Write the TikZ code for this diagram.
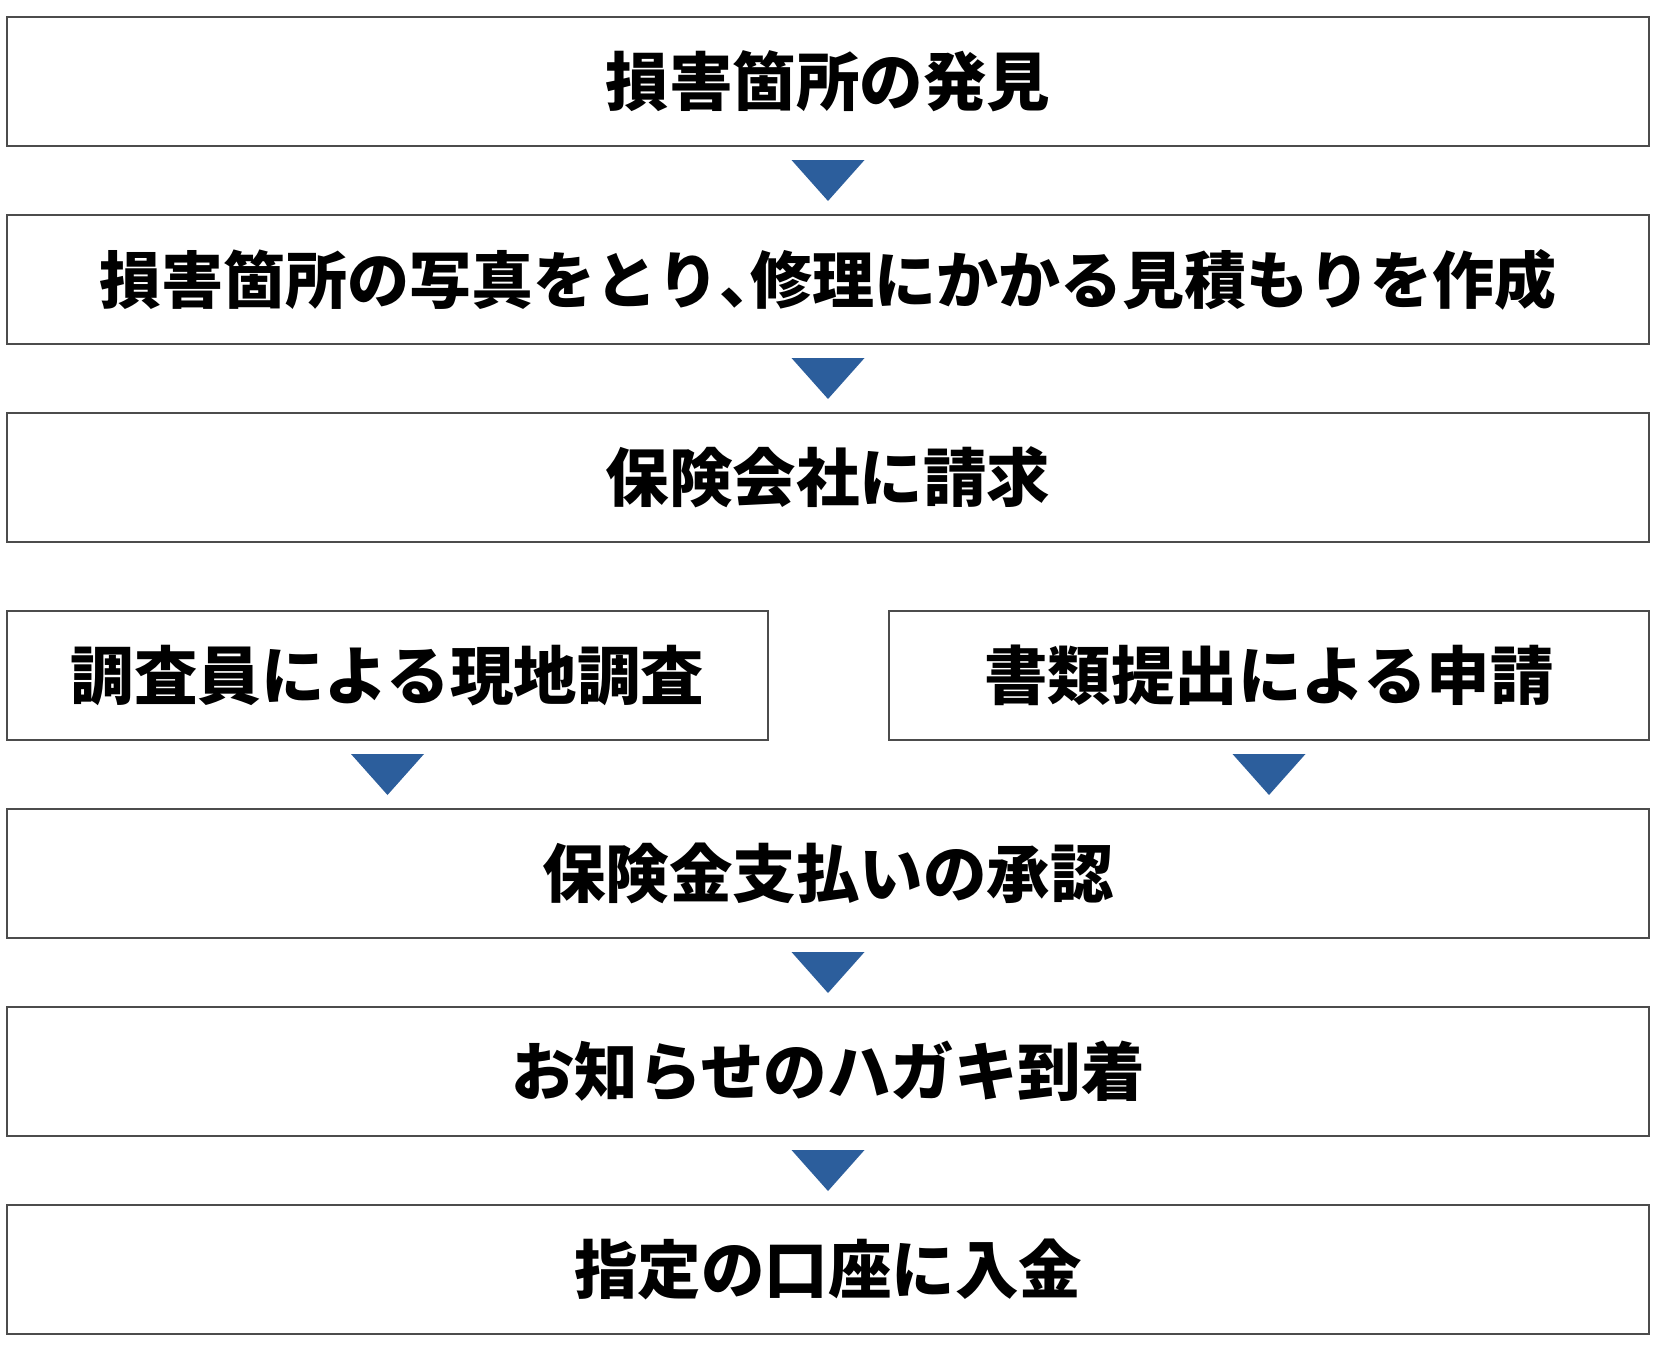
\documentclass[tikz,border=0pt]{standalone}
\usepackage{fontspec}
\newfontfamily\jpfont{Noto Sans CJK JP}
\usepackage{tikz}
\usetikzlibrary{positioning}
\usetikzlibrary{calc}
\definecolor{arrowblue}{RGB}{44,94,156}
\newcommand{\steparrow}[2]{\fill[arrowblue] ($(#1.south)!0.5!(#1.south |- #2.north)$) ++(-36.5,20.5) -- ++(73,0) -- ++(-36.5,-41) -- cycle;}
\newcommand{\halfcomma}{\makebox[0.5em][l]{、}}

\begin{document}
\begin{tikzpicture}
                [x=1pt, y=1pt, node distance=69pt,
                 every node/.style={draw=black!70, line width=1.3pt, outer sep=0pt, inner sep=0pt,
                   minimum width=1642pt, minimum height=129pt,
                   font=\jpfont\bfseries\fontsize{63.5}{70}\selectfont}]
                \useasboundingbox (0,0) rectangle (1680,-1354);
                \node (a) [anchor=north west] at (7,-17) {損害箇所の発見};
                \node (b) [below=of a, font=\jpfont\bfseries\fontsize{62}{70}\selectfont] {損害箇所の写真をとり\halfcomma 修理にかかる見積もりを作成};
                \node (c) [below=of b] {保険会社に請求};
                \node (d) [minimum width=761pt, below=of c.south west, anchor=north west] {調査員による現地調査};
                \node (e) [minimum width=760pt, below=of c.south east, anchor=north east] {書類提出による申請};
                \node (f) [below=of d.south west, anchor=north west] {保険金支払いの承認};
                \node (g) [below=of f] {お知らせのハガキ到着};
                \node (h) [below=of g] {指定の口座に入金};
                \steparrow{a}{b}
                \steparrow{b}{c}
                \steparrow{d}{f}
                \steparrow{e}{f}
                \steparrow{f}{g}
                \steparrow{g}{h}
            \end{tikzpicture}
\end{document}
